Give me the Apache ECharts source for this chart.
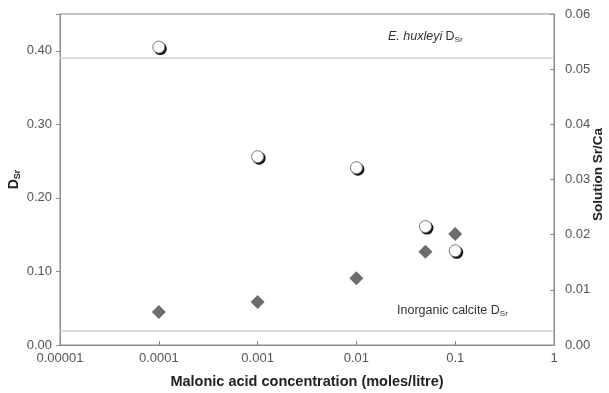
<!DOCTYPE html>
<html>
<head>
<meta charset="utf-8">
<script src="https://cdn.jsdelivr.net/npm/echarts@6/dist/echarts.min.js"></script>
<style>html,body{margin:0;padding:0;background:#fff}#c{width:609px;height:393px}</style>
</head>
<body>
<div id="c"></div>
<script>
// Data
const concentrations = [0.0001, 0.001, 0.01, 0.05, 0.1];
const dSr = [0.405, 0.256, 0.241, 0.161, 0.128];
const solutionSrCa = [0.0060, 0.0078, 0.0121, 0.0169, 0.0201];
const huxleyiDSr = 0.391;
const inorganicDSr = 0.020;
const xTickLabels = ['0.00001', '0.0001', '0.001', '0.01', '0.1', '1'];

const font = 'Liberation Sans, Arial, sans-serif';
const chart = echarts.init(document.getElementById('c'));
const circleData = concentrations.map((c, i) => [c, dSr[i]]);
const diamondData = concentrations.map((c, i) => [c, solutionSrCa[i]]);
const axisGray = '#8a8a8a';
const labelColor = '#555';

chart.setOption({
  animation: false,
  textStyle: {fontFamily: font},
  grid: {left: 60, right: 55, top: 14, bottom: 48, show: true, borderColor: axisGray, borderWidth: 1,
    outerBoundsMode: 'none', containLabel: false},
  xAxis: {
    type: 'log', logBase: 10, min: 0.00001, max: 1,
    name: 'Malonic acid concentration (moles/litre)', nameLocation: 'middle', nameGap: 29,
    nameMoveOverlap: false,
    nameTextStyle: {fontWeight: 'bold', fontSize: 14.5, color: '#222', fontFamily: font},
    axisLine: {lineStyle: {color: axisGray}},
    axisTick: {inside: true, length: 4, lineStyle: {color: axisGray}},
    splitLine: {show: false},
    minorTick: {show: false},
    axisLabel: {color: labelColor, fontSize: 13, margin: 7, fontFamily: font,
      formatter: v => { const e = Math.round(Math.log10(v)); return xTickLabels[e + 5]; }}
  },
  yAxis: [{
    type: 'value', min: 0, max: 0.45, interval: 0.1, position: 'left',
    name: '{b|D}{s|Sr}', nameLocation: 'middle', nameGap: 38, nameRotate: 90,
    nameMoveOverlap: false,
    nameTextStyle: {rich: {b: {fontWeight: 'bold', fontSize: 14, color: '#222', fontFamily: font},
      s: {fontWeight: 'bold', fontSize: 9, color: '#222', padding: [7, 0, 0, 0], fontFamily: font}}},
    axisLine: {show: true, lineStyle: {color: axisGray}},
    axisTick: {show: true, length: 4, lineStyle: {color: axisGray}},
    splitLine: {show: false},
    axisLabel: {color: labelColor, fontSize: 13, margin: 8, fontFamily: font,
      formatter: v => (Math.abs(v - 0.45) < 1e-9 ? '' : v.toFixed(2))}
  }, {
    type: 'value', min: 0, max: 0.06, interval: 0.01, position: 'right',
    name: 'Solution Sr/Ca', nameLocation: 'middle', nameGap: 37, nameRotate: 90,
    nameMoveOverlap: false,
    nameTextStyle: {fontWeight: 'bold', fontSize: 13.5, color: '#222', fontFamily: font, padding: [0, 0, 0, 10]},
    axisLine: {show: true, lineStyle: {color: axisGray}},
    axisTick: {show: true, inside: true, length: 4, lineStyle: {color: axisGray}},
    splitLine: {show: false},
    axisLabel: {color: labelColor, fontSize: 13, margin: 11, fontFamily: font,
      formatter: v => v.toFixed(2)}
  }],
  series: [{
    type: 'scatter', yAxisIndex: 0, data: [], silent: true,
    markLine: {
      silent: true, symbol: 'none', label: {show: false},
      lineStyle: {color: '#cfcfcf', width: 1.5, type: 'solid'},
      data: [{yAxis: huxleyiDSr}, {yAxis: inorganicDSr}]
    }
  }, {
    type: 'scatter', yAxisIndex: 1, data: diamondData, symbol: 'diamond', symbolSize: 14,
    itemStyle: {color: '#6d6d6d', opacity: 1}
  }, {
    type: 'scatter', yAxisIndex: 0, data: circleData, symbol: 'circle', symbolSize: 13,
    symbolOffset: [1.5, 1.5], itemStyle: {color: '#111', opacity: 1}
  }, {
    type: 'scatter', yAxisIndex: 0, data: circleData, symbol: 'circle', symbolSize: 12,
    itemStyle: {color: '#fff', borderColor: '#777', borderWidth: 1, opacity: 1}
  }],
  graphic: [{
    type: 'text', left: 388, top: 30,
    style: {text: '{i|E. huxleyi} {n|D}{s|Sr}', rich: {
      i: {fontStyle: 'italic', fontSize: 12.5, fill: '#333', fontFamily: font},
      n: {fontSize: 12.5, fill: '#333', fontFamily: font},
      s: {fontSize: 8, fill: '#333', fontFamily: font, padding: [6, 0, 0, 0]}}}
  }, {
    type: 'text', left: 397, top: 304,
    style: {text: '{n|Inorganic calcite D}{s|Sr}', rich: {
      n: {fontSize: 12.5, fill: '#333', fontFamily: font},
      s: {fontSize: 8, fill: '#333', fontFamily: font, padding: [6, 0, 0, 0]}}}
  }]
});
</script>
</body>
</html>
